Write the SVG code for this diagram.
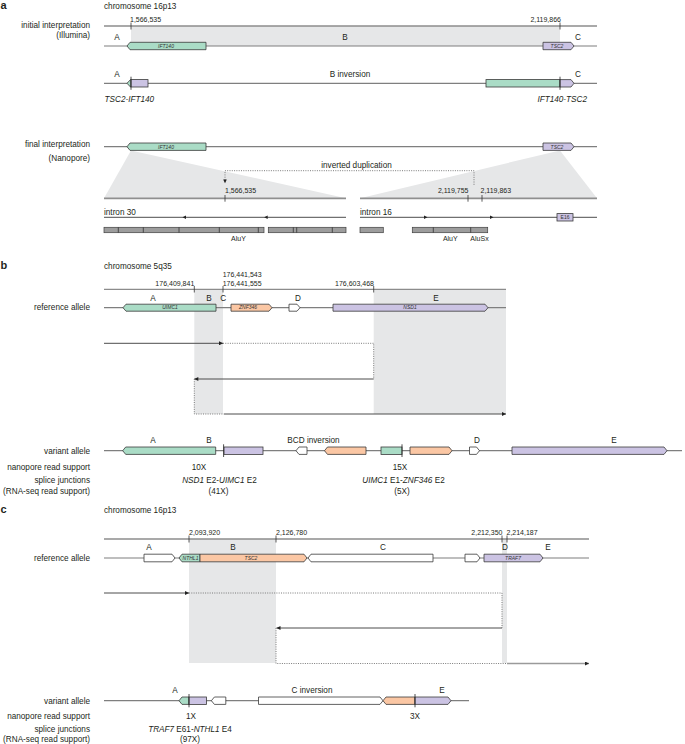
<svg xmlns="http://www.w3.org/2000/svg" width="685" height="744" viewBox="0 0 685 744">
<style>
text{font-family:"Liberation Sans",Arial,sans-serif;font-size:8.2px;fill:#231f20}
.pl{font-size:11px;font-weight:bold}
.tk{font-size:7px}
.gl{font-size:5px;font-style:italic;fill:#333}
.ge{font-size:5px;fill:#333}
.it{font-style:italic}
.e{text-anchor:end}
.m{text-anchor:middle}
.ln{stroke:#7f7f7f;stroke-width:1.2;fill:none}
.chr{stroke:#8c8c8c;stroke-width:1.3;fill:none}
.thk{stroke:#8f8f8f;stroke-width:1.8;fill:none}
.tick{stroke:#333;stroke-width:0.8}
.fus{stroke:#222;stroke-width:0.8}
.g{stroke:#3a3a3a;stroke-width:0.8}
.gr{fill:#aadcc6}.pu{fill:#cbc3e3}.or{fill:#fbc7a4}.wh{fill:#fff}
.sh{fill:#e6e7e8}
.ar{stroke:#4d4d4d;stroke-width:1;fill:none}
.ar2{stroke:#9a9a9a;stroke-width:1.6;fill:none}
.dt{stroke:#6d6d6d;stroke-width:0.9;stroke-dasharray:1 1.3;fill:none}
.rp{fill:#9d9d9d;stroke:#404040;stroke-width:0.7}
.hd{fill:#222}
</style>
<defs>
<marker id="ah" viewBox="0 0 6 6" refX="6" refY="3" markerWidth="4.5" markerHeight="4" markerUnits="userSpaceOnUse" orient="auto"><path d="M0,0 L6,3 L0,6 z" fill="#222"/></marker>
</defs>

<!-- ================= PANEL A ================= -->
<g id="panel-a">
<text class="pl" x="0.5" y="9">a</text>
<text x="104" y="9">chromosome 16p13</text>

<g id="a-initial">
<text class="e" x="90" y="28.2">initial interpretation</text>
<text class="e" x="90" y="38">(Illumina)</text>
<rect class="sh" x="131" y="26" width="429" height="20"/>
<line class="chr" x1="104" y1="26" x2="597" y2="26"/>
<line class="tick" x1="131" y1="22.5" x2="131" y2="29.5"/>
<line class="tick" x1="560" y1="22.5" x2="560" y2="29.5"/>
<text class="tk" x="130" y="21.6">1,566,535</text>
<text class="tk e" x="561" y="21.6">2,119,866</text>
<text class="m" x="117" y="39.7">A</text>
<text class="m" x="345" y="39.7">B</text>
<text class="m" x="578" y="39.7">C</text>
<line class="ln" x1="104" y1="46" x2="597" y2="46"/>
<path class="g gr" d="M206 42.3 H130 L127 46 L130 49.7 H206 Z"/>
<text class="gl m" x="166" y="47.8">IFT140</text>
<path class="g pu" d="M543 42.3 H571 L574 46 L571 49.7 H543 Z"/>
<text class="gl m" x="557" y="47.8">TSC2</text>
</g>

<g id="a-inversion">
<text class="m" x="117" y="76.5">A</text>
<text class="m" x="350" y="76.5">B inversion</text>
<text class="m" x="578" y="76.5">C</text>
<line class="ln" x1="104" y1="83.3" x2="597" y2="83.3"/>
<path class="g gr" d="M131 79.6 H130.5 L127 83.3 L130.5 87 H131 Z"/>
<rect class="g pu" x="131" y="79.6" width="17" height="7.4"/>
<line class="fus" x1="131" y1="76.7" x2="131" y2="89.8"/>
<rect class="g gr" x="486" y="79.6" width="74" height="7.4"/>
<path class="g pu" d="M560 79.6 H571 L574 83.3 L571 87 H560 Z"/>
<line class="fus" x1="560" y1="76.7" x2="560" y2="89.8"/>
<text class="it" x="104.5" y="102">TSC2-IFT140</text>
<text class="it e" x="587" y="102">IFT140-TSC2</text>
</g>

<g id="a-final">
<text class="e" x="90" y="147.3">final interpretation</text>
<text class="e" x="90" y="160.7">(Nanopore)</text>
<polygon class="sh" points="131,150.4 104,198.3 346,198.3"/>
<polygon class="sh" points="560,150.4 360,198.3 597,198.3"/>
<line class="ln" x1="104" y1="146.7" x2="597" y2="146.7"/>
<path class="g gr" d="M206 143 H130 L127 146.7 L130 150.4 H206 Z"/>
<text class="gl m" x="166" y="148.5">IFT140</text>
<path class="g pu" d="M543 143 H571 L574 146.7 L571 150.4 H543 Z"/>
<text class="gl m" x="557" y="148.5">TSC2</text>
<text class="m" x="356.5" y="167.5">inverted duplication</text>
<line class="thk" x1="104" y1="198.3" x2="346" y2="198.3"/>
<line class="thk" x1="360" y1="198.3" x2="597" y2="198.3"/>
<line class="tick" x1="225" y1="195" x2="225" y2="201.7"/>
<line class="tick" x1="468" y1="195" x2="468" y2="201.7"/>
<line class="tick" x1="482" y1="195" x2="482" y2="201.7"/>
<text class="tk" x="225" y="193.3">1,566,535</text>
<text class="tk e" x="468.5" y="193.3">2,119,755</text>
<text class="tk" x="480.5" y="193.3">2,119,863</text>
</g>

<g id="a-introns">
<text x="104" y="214.5">intron 30</text>
<text x="360" y="214.5">intron 16</text>
<line class="ar" x1="104" y1="217.3" x2="346" y2="217.3"/>
<line class="ar" x1="360" y1="217.3" x2="597" y2="217.3"/>
<polygon class="hd" points="182.5,217.3 186,215.6 186,219"/>
<polygon class="hd" points="264.2,217.3 267.7,215.6 267.7,219"/>
<polygon class="hd" points="427.5,217.3 424,215.6 424,219"/>
<polygon class="hd" points="493.5,217.3 490,215.6 490,219"/>
<rect class="g pu" x="557" y="213.6" width="16" height="7.4"/>
<text class="ge m" x="565" y="219">E16</text>
</g>

<g id="a-repeats">
<rect class="rp" x="104" y="227.3" width="160" height="5.4"/>
<path class="tick" d="M118.3 227.3V232.7M143.3 227.3V232.7M179 227.3V232.7M219.3 227.3V232.7M258.3 227.3V232.7"/>
<rect class="rp" x="268.3" y="227.3" width="77.7" height="5.4"/>
<path class="tick" d="M293.3 227.3V232.7M296.7 227.3V232.7M332.3 227.3V232.7"/>
<rect class="rp" x="360" y="227.3" width="23.3" height="5.4"/>
<rect class="rp" x="412.3" y="227.3" width="75.4" height="5.4"/>
<path class="tick" d="M433.3 227.3V232.7M470.7 227.3V232.7"/>
<text class="tk m" x="238.5" y="240.5">AluY</text>
<text class="tk m" x="450.3" y="240.5">AluY</text>
<text class="tk m" x="479.5" y="240.5">AluSx</text>
</g>
</g>

<!-- ================= PANEL B ================= -->
<g id="panel-b">
<text class="pl" x="0.5" y="268.5">b</text>
<text x="104" y="269">chromosome 5q35</text>
<rect class="sh" x="194.3" y="289.3" width="28.7" height="124.7"/>
<rect class="sh" x="373.7" y="289.3" width="132.3" height="124.7"/>
<line class="chr" x1="104" y1="289.3" x2="506" y2="289.3"/>
<line class="tick" x1="194.3" y1="286" x2="194.3" y2="292.5"/>
<line class="tick" x1="223" y1="286" x2="223" y2="292.5"/>
<line class="tick" x1="373.7" y1="286" x2="373.7" y2="292.5"/>
<text class="tk" x="222.7" y="277">176,441,543</text>
<text class="tk" x="222.7" y="286">176,441,555</text>
<text class="tk e" x="194.3" y="286">176,409,841</text>
<text class="tk e" x="374" y="286">176,603,468</text>

<g id="b-reference">
<text class="e" x="90" y="309.5">reference allele</text>
<text class="m" x="153" y="301">A</text>
<text class="m" x="209" y="301">B</text>
<text class="m" x="223.3" y="301">C</text>
<text class="m" x="298" y="301">D</text>
<text class="m" x="436" y="301">E</text>
<line class="ln" x1="104" y1="307.7" x2="506" y2="307.7"/>
<path class="g gr" d="M216 304.2 H126 L123 307.7 L126 311.2 H216 Z"/>
<text class="gl m" x="170" y="309.4">UIMC1</text>
<path class="g or" d="M231 304.2 H269 L272 307.7 L269 311.2 H231 Z"/>
<text class="gl m" x="248" y="309.4">ZNF346</text>
<path class="g wh" d="M289 304.2 H297 L300 307.7 L297 311.2 H289 Z"/>
<path class="g pu" d="M333 304.2 H485 L488 307.7 L485 311.2 H333 Z"/>
<text class="gl m" x="410" y="309.4">NSD1</text>
</g>

<g id="b-variant">
<text class="e" x="90" y="454">variant allele</text>
<text class="m" x="153" y="443">A</text>
<text class="m" x="209" y="443">B</text>
<text class="m" x="313.5" y="443">BCD inversion</text>
<text class="m" x="477" y="443">D</text>
<text class="m" x="614" y="443">E</text>
<line class="ln" x1="104" y1="450.7" x2="682" y2="450.7"/>
<path class="g gr" d="M215.7 447 H125.7 L122.7 450.7 L125.7 454.4 H215.7 Z"/>
<rect class="g pu" x="224" y="447" width="39" height="7.4"/>
<line class="fus" x1="223.6" y1="444.3" x2="223.6" y2="457"/>
<path class="g wh" d="M307 447 H299 L296 450.7 L299 454.4 H307 Z"/>
<path class="g or" d="M366 447 H327.5 L324.5 450.7 L327.5 454.4 H366 Z"/>
<rect class="g gr" x="381" y="447" width="21" height="7.4"/>
<line class="fus" x1="402" y1="444.3" x2="402" y2="457"/>
<path class="g or" d="M410 447 H449 L452 450.7 L449 454.4 H410 Z"/>
<path class="g wh" d="M469.5 447 H476.5 L479.5 450.7 L476.5 454.4 H469.5 Z"/>
<path class="g pu" d="M512 447 H664 L667 450.7 L664 454.4 H512 Z"/>
</g>

<g id="b-support">
<text class="e" x="90" y="470">nanopore read support</text>
<text class="e" x="90" y="483">splice junctions</text>
<text class="e" x="90" y="494">(RNA-seq read support)</text>
<text class="m" x="199" y="470">10X</text>
<text class="m" x="400" y="470">15X</text>
<text class="m" x="219.5" y="483"><tspan class="it">NSD1</tspan> E2-<tspan class="it">UIMC1</tspan> E2</text>
<text class="m" x="218.5" y="494">(41X)</text>
<text class="m" x="403.5" y="483"><tspan class="it">UIMC1</tspan> E1-<tspan class="it">ZNF346</tspan> E2</text>
<text class="m" x="402" y="494">(5X)</text>
</g>
</g>

<!-- ================= PANEL C ================= -->
<g id="panel-c">
<text class="pl" x="0.5" y="512.5">c</text>
<text x="104" y="513">chromosome 16p13</text>
<rect class="sh" x="189" y="539" width="87" height="124"/>
<rect class="sh" x="502" y="539" width="5" height="124"/>
<line class="chr" x1="104" y1="539" x2="589" y2="539"/>
<line class="tick" x1="189" y1="535.5" x2="189" y2="542.5"/>
<line class="tick" x1="276" y1="535.5" x2="276" y2="542.5"/>
<line class="tick" x1="502" y1="535.5" x2="502" y2="542.5"/>
<line class="tick" x1="507" y1="535.5" x2="507" y2="542.5"/>
<text class="tk" x="189" y="535">2,093,920</text>
<text class="tk" x="276" y="535">2,126,780</text>
<text class="tk e" x="502.5" y="535">2,212,350</text>
<text class="tk" x="506.5" y="535">2,214,187</text>

<g id="c-reference">
<text class="e" x="90" y="561">reference allele</text>
<text class="m" x="149" y="550">A</text>
<text class="m" x="233" y="550">B</text>
<text class="m" x="383" y="550">C</text>
<text class="m" x="505" y="550">D</text>
<text class="m" x="548" y="550">E</text>
<line class="ln" x1="104" y1="558" x2="589" y2="558"/>
<path class="g wh" d="M144 554.2 H172 L175 558 L172 561.8 H144 Z"/>
<path class="g gr" d="M200 554.2 H182 L179 558 L182 561.8 H200 Z"/>
<text class="gl m" x="190.5" y="559.8">NTHL1</text>
<path class="g or" d="M200 554.2 H304 L307 558 L304 561.8 H200 Z"/>
<text class="gl m" x="251" y="559.8">TSC2</text>
<path class="g wh" d="M433 554.2 H311 L308 558 L311 561.8 H433 Z"/>
<path class="g wh" d="M465 554.2 H477 L480 558 L477 561.8 H465 Z"/>
<path class="g pu" d="M484 554.2 H540 L543 558 L540 561.8 H484 Z"/>
<text class="gl m" x="513" y="559.8">TRAF7</text>
</g>

<g id="c-variant">
<text class="e" x="90" y="703.7">variant allele</text>
<text class="m" x="175" y="693">A</text>
<text class="m" x="312" y="693">C inversion</text>
<text class="m" x="442" y="693">E</text>
<line class="ln" x1="104" y1="700.7" x2="469" y2="700.7"/>
<path class="g gr" d="M189 697 H182 L179 700.7 L182 704.4 H189 Z"/>
<rect class="g pu" x="189" y="697" width="17.5" height="7.4"/>
<line class="fus" x1="189" y1="694" x2="189" y2="707.3"/>
<path class="g wh" d="M225.8 697 H214.4 L211.4 700.7 L214.4 704.4 H225.8 Z"/>
<path class="g wh" d="M258.5 697 H380 L383 700.7 L380 704.4 H258.5 Z"/>
<path class="g or" d="M415 697 H386 L383 700.7 L386 704.4 H415 Z"/>
<path class="g pu" d="M415 697 H448 L451 700.7 L448 704.4 H415 Z"/>
<line class="fus" x1="415" y1="694" x2="415" y2="707.3"/>
</g>

<g id="c-support">
<text class="e" x="90" y="718.7">nanopore read support</text>
<text class="e" x="90" y="732">splice junctions</text>
<text class="e" x="90" y="742">(RNA-seq read support)</text>
<text class="m" x="191" y="718.7">1X</text>
<text class="m" x="415" y="718.7">3X</text>
<text class="m" x="190" y="732"><tspan class="it">TRAF7</tspan> E61-<tspan class="it">NTHL1</tspan> E4</text>
<text class="m" x="190" y="742">(97X)</text>
</g>
</g>

<!-- ================= CONNECTORS ================= -->
<g id="connectors">
<path class="dt" d="M225 180 V170.7 H474 V185"/>
<polygon class="hd" points="223.2,179.5 226.8,179.5 225,183.2"/>

<line class="ar" x1="104" y1="343.3" x2="223" y2="343.3" marker-end="url(#ah)"/>
<path class="dt" d="M223 343.3 H373.7 V379"/>
<line class="ar" x1="373.7" y1="379" x2="194.3" y2="379" marker-end="url(#ah)"/>
<path class="dt" d="M194.3 379 V414 H224"/>
<line class="ar" x1="224" y1="414" x2="506" y2="414" marker-end="url(#ah)"/>

<line class="ar" x1="104" y1="593" x2="189" y2="593" marker-end="url(#ah)"/>
<path class="dt" d="M189 593 H502 V628"/>
<line class="ar" x1="502" y1="628" x2="276.5" y2="628" marker-end="url(#ah)"/>
<path class="dt" d="M276 628 V663.5 H507"/>
<line class="ar2" x1="507" y1="663.5" x2="589" y2="663.5" marker-end="url(#ah)"/>
</g>
</svg>
